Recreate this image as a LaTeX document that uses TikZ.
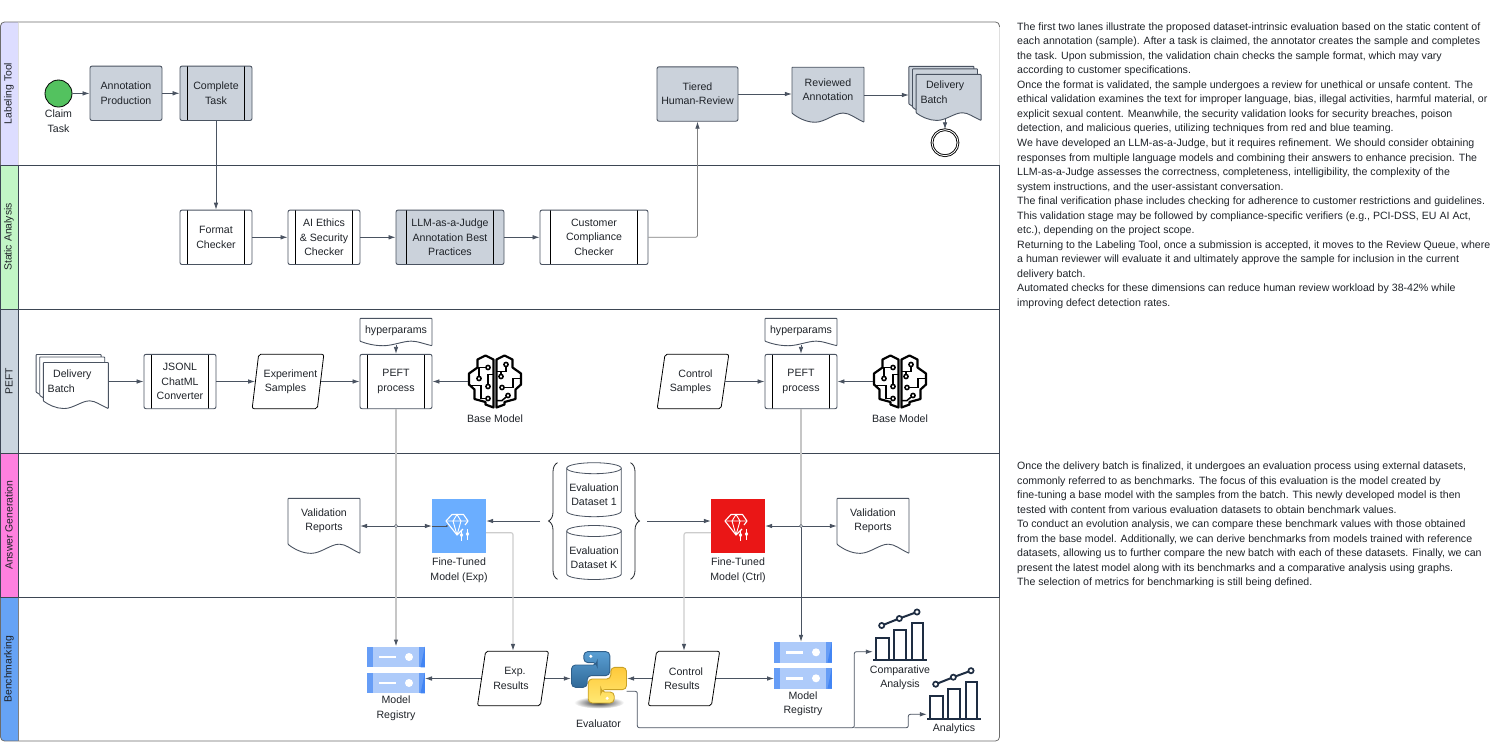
\documentclass[tikz,border=0pt]{standalone}
\usepackage{fontspec}
\setmainfont{Liberation Sans}
\usetikzlibrary{positioning, arrows.meta, decorations.pathreplacing, calc, shapes.geometric}
\definecolor{ink}{HTML}{1F2329}
\definecolor{edgecol}{HTML}{4A5361}
\definecolor{lanecol}{HTML}{3D4654}
\definecolor{boxgray}{HTML}{CBD2DB}
\definecolor{navy}{HTML}{1E2D42}
\definecolor{startgreen}{HTML}{53C25F}
\definecolor{labelhead}{HTML}{DDDDFF}
\definecolor{statichead}{HTML}{C2F6C6}
\definecolor{peefthead}{HTML}{CBD5DF}
\definecolor{answerhead}{HTML}{FF80DF}
\definecolor{benchhead}{HTML}{66A3F5}
\definecolor{modelblue}{HTML}{6BAEFF}
\definecolor{modelred}{HTML}{EA1616}
\definecolor{regbase}{HTML}{AECBFA}
\definecolor{regside}{HTML}{669DF6}
\definecolor{regdark}{HTML}{4285F4}
\definecolor{pyblueup}{HTML}{5A9FD4}
\definecolor{pybluelow}{HTML}{306998}
\definecolor{pyblueedge}{HTML}{2F5F8A}
\definecolor{pyyellowup}{HTML}{FFC93A}
\definecolor{pyyellowlow}{HTML}{FFE873}
\definecolor{pyyellowedge}{HTML}{C9A227}
\tikzset{
  lanehead/.style={rectangle, rotate=90, minimum height=18pt, inner sep=0pt, font=\fontsize{10.4pt}{12pt}\selectfont, text=ink},
  box/.style={rectangle, rounded corners=2pt, draw=edgecol, line width=0.9pt, minimum height=54.4pt, align=center, inner sep=0pt, font=\fontsize{10.6pt}{14.4pt}\selectfont, text=ink},
  subproc/.style={box, path picture={
    \draw[black, line width=0.7pt] ([xshift=#1]path picture bounding box.north west) -- ([xshift=#1]path picture bounding box.south west);
    \draw[black, line width=0.7pt] ([xshift=-#1]path picture bounding box.north east) -- ([xshift=-#1]path picture bounding box.south east);
  }},
  slanted/.style={trapezium, trapezium left angle=75, trapezium right angle=105, trapezium stretches=true, rounded corners=2pt, draw=black, line width=0.8pt, minimum height=54.4pt, align=center, inner sep=0pt, font=\fontsize{10.6pt}{14.4pt}\selectfont, text=ink},
  lbl/.style={align=center, inner sep=0pt, font=\fontsize{10.6pt}{14.4pt}\selectfont, text=ink},
  iconbox/.style={rectangle, inner sep=0pt},
  flow/.style={draw=edgecol, line width=0.8pt, -{Latex[length=7pt,width=4.6pt,color=edgecol]}},
  softflow/.style={flow, draw=#1, rounded corners=2pt},
  para/.style={anchor=north west, align=left, inner sep=0pt, font=\fontsize{10.6pt}{14.55pt}\selectfont, text=ink},
  pics/docsheet/.style n args={3}{code={
    \begin{scope}[xscale=#1, yscale=#2]
      \draw[draw=edgecol, line width=0.9pt, fill=#3, rounded corners=0.6pt] (-.5,-.5) -- (.5,-.5) -- (.5,.5) .. controls (.37,.42) and (.3,.335) .. (.21,.335) .. controls (.1,.335) and (-.05,.5) .. (-.18,.5) .. controls (-.3,.5) and (-.42,.42) .. (-.5,.335) -- cycle;
    \end{scope}
  }},
  pics/docstack/.style={code={
    \pic at (-3.6,-4.5) {docsheet={65}{45}{#1}};
    \pic at (0,-1.5) {docsheet={65}{46}{#1}};
    \pic at (3.6,4) {docsheet={65}{46}{#1}};
  }},
  pics/can/.style={code={
    \draw[draw=edgecol, line width=0.8pt, fill=white] (-27.3,-21.5) -- (-27.3,21.5) arc[start angle=180, end angle=0, x radius=27.3, y radius=5.5] -- (27.3,-21.5);
    \draw[draw=edgecol, line width=0.8pt, fill=white] (0,-21.5) ellipse (27.3 and 5.5);
  }},
  pics/registry/.style={code={
    \foreach \ypos in {-13,13} {
      \fill[regbase] (-28.8,\ypos-10.3) rectangle (28.8,\ypos+10.3);
      \fill[regside] (-28.8,\ypos-10.3) rectangle (-23,\ypos+10.3);
      \fill[regside] (23,\ypos-10.3) rectangle (28.8,\ypos+10.3);
      \fill[regdark] (28.8,\ypos-10.3) -- (28.8,\ypos+10.3) -- (24.5,\ypos+10.3) -- cycle;
      \fill[white] (-17,\ypos-1.3) rectangle (0,\ypos+1.3);
      \fill[white] (13,\ypos) circle (4);
    }
  }},
  pics/chart/.style={code={
    \draw[navy, line width=2pt] (-27,24) -- (27,24);
    \draw[navy, line width=2pt] (-24,24) -- (-24,1.5) -- (-11.5,1.5) -- (-11.5,24);
    \draw[navy, line width=2pt] (-6,24) -- (-6,-6) -- (6,-6) -- (6,24);
    \draw[navy, line width=2pt] (11.7,24) -- (11.7,-12.7) -- (23.3,-12.7) -- (23.3,24);
    \draw[navy, line width=2pt] (-18.3,-10.5) -- (-0.7,-17.5) -- (17,-24);
    \foreach \dotx/\doty in {-18.3/-10.5, -0.7/-17.5, 17/-24}
      \draw[navy, line width=1.7pt, fill=white] (\dotx,\doty) circle (2.6);
  }},
  pics/gem/.style={code={
    \draw[white, line width=1.1pt, line join=round] (4,3) -- (-2,9) -- (-13,-5) -- (-7,-11.5) -- (4.5,-11.5) -- (9,-5) -- (6,-1);
    \draw[white, line width=0.9pt] (-13,-5) -- (9,-5) (-2,9) -- (-6,-5) -- (-2,-11.5) -- (2,-5) -- (-2,9);
    \foreach \slidex/\slidey in {2.5/9, 8.5/8} {
      \draw[white, line width=0.9pt] (\slidex,\slidey-5) -- (\slidex,\slidey+6);
      \fill[white] (\slidex,\slidey-2.5) -- (\slidex+1.7,\slidey) -- (\slidex,\slidey+2.5) -- (\slidex-1.7,\slidey) -- cycle;
    }
  }},
  pics/brain/.style={code={
    \draw[black, line width=2.2pt, line join=round] (-1.5,-22) -- (-9.5,-26) -- (-17.5,-22) -- (-17.5,-14) -- (-26,-8) -- (-26,3) -- (-20.5,8) -- (-20.5,17.5) -- (-9.5,20.5) -- (-9.5,23) -- (-1.5,26) -- cycle;
    \draw[black, line width=2.2pt, line join=round] (1.5,-22) -- (9.5,-26) -- (17.5,-22) -- (17.5,-14) -- (26,-8) -- (26,3) -- (20.5,8) -- (20.5,17.5) -- (9.5,20.5) -- (9.5,23) -- (1.5,26) -- cycle;
    \draw[black, line width=1.5pt] (-7,-14) -- (-16,-14) -- (-16,-3);
    \draw[black, line width=1.5pt] (-7,5) -- (-7,-7) -- (-1.5,-7);
    \draw[black, line width=1.5pt] (-7,17) -- (-14,17) -- (-14,4) -- (-26,4);
    \draw[black, line width=1.5pt] (11,-17) -- (11,-10) -- (1.5,-10);
    \draw[black, line width=1.5pt] (6,-10) -- (6,-5);
    \draw[black, line width=1.5pt] (7,6) -- (18,6) -- (18,-3) -- (26,-3);
    \draw[black, line width=1.5pt] (13,14) -- (7,19) -- (1.5,19);
    \foreach \dotx/\doty in {-7/-14, -16/-3, -7/5, -7/17, 11/-17, 6/-5, 7/6, 13/14}
      \draw[black, line width=1.5pt, fill=white] (\dotx,\doty) circle (2.1);
  }},
  pics/snake/.style n args={3}{code={
    \path[draw=#3, line width=0.9pt, top color=#1, bottom color=#2, rounded corners=4pt] (-2.5,-25.7) -- (10.8,-25.7) -- (10.8,-1.7) -- (-11.8,-1.7) -- (-11.8,10) -- (-27.5,10) -- (-27.5,-12.3) -- (-1.8,-12.3) -- (-1.8,-14.7) -- (-15.2,-14.7) -- (-15.2,-25.7) -- cycle;
    \fill[white] (-8.2,-21) circle (1.7);
  }},
}
\begin{document}
\begin{tikzpicture}[x=1pt, y=-1pt]
  \useasboundingbox (0,0) rectangle (1494,742);

  % Lane headers
  \begin{scope}
    \clip[rounded corners=4pt] (0.5,22) rectangle (999.5,741);
    \node[lanehead, fill=labelhead, minimum width=143pt] (lanelabel) at (9,93.5) {Labeling Tool};
    \node[lanehead, fill=statichead, minimum width=144pt] (lanestatic) at (9,237) {Static Analysis};
    \node[lanehead, fill=peefthead, minimum width=144pt] (lanepeft) at (9,381) {PEFT};
    \node[lanehead, fill=answerhead, minimum width=144.5pt] (laneanswer) at (9,525.2) {Answer Generation};
    \node[lanehead, fill=benchhead, minimum width=144pt] (lanebench) at (9,669.3) {Benchmarking};
  \end{scope}

  % Lane borders
  \draw[draw=gray!85!black, line width=0.8pt, rounded corners=4pt] (0.5,22) rectangle (999.5,741);
  \draw[draw=gray!25, line width=0.9pt] (999.5,27) -- (999.5,165);
  \draw[draw=gray!25, line width=0.9pt] (18,22.5) -- (18,165);
  \draw[draw=lanecol, line width=0.8pt] (0.5,165) rectangle (999.5,597.5);
  \draw[draw=lanecol, line width=0.8pt] (0.5,309) -- (999.5,309);
  \draw[draw=lanecol, line width=0.8pt] (0.5,453) -- (999.5,453);
  \draw[draw=lanecol, line width=0.8pt] (18,165) -- (18,597.5);
  \draw[draw=gray, line width=0.8pt] (18,597.5) -- (18,741);

  % Labeling Tool
  \node[circle, draw=black, line width=0.8pt, fill=startgreen, minimum size=27pt, inner sep=0pt] (claim) at (58.5,93.5) {};
  \node[lbl] (claimtext) at (58.5,121.2) {Claim\\Task};
  \node[box, fill=boxgray, minimum width=72pt] (produce) at (126,93.3) {Annotation\\Production};
  \node[subproc=7.5pt, fill=boxgray, minimum width=72pt] (complete) at (216,93.3) {Complete\\Task};
  \node[box, fill=boxgray, minimum width=81pt] (tiered) at (697.5,94) {Tiered\\Human-Review};
  \pic at (828,94.7) {docsheet={72}{55}{boxgray}};
  \node[lbl, minimum width=72pt, minimum height=55pt] (reviewed) at (828,90) {Reviewed\\Annotation};
  \pic at (945,93.4) {docstack=boxgray};
  \node[lbl, minimum width=72pt, minimum height=55pt, text width=57pt, align=left] (batchtop) at (945,92.3) {\hspace*{9.5pt}Delivery\\\hspace*{4pt}Batch};
  \node[circle, draw=black, line width=0.9pt, double, double distance=0.9pt, minimum size=26pt, inner sep=0pt] (finish) at (945,142.7) {};

  % Static Analysis
  \node[subproc=7.5pt, minimum width=72pt] (format) at (216,237.3) {Format\\Checker};
  \node[subproc=7.5pt, minimum width=72pt] (ethics) at (324,237.3) {AI Ethics\\\&~Security\\Checker};
  \node[subproc=10.5pt, fill=boxgray, minimum width=108pt] (judge) at (450,237.3) {LLM-as-a-Judge\\Annotation Best\\Practices};
  \node[subproc=10.5pt, minimum width=108pt] (customer) at (594,237.3) {Customer\\Compliance\\Checker};

  % PEFT
  \pic at (72.2,381.5) {docstack=white};
  \node[lbl, minimum width=72pt, minimum height=55pt, text width=57pt, align=left] (batchpeft) at (72.2,381.2) {\hspace*{9.5pt}Delivery\\\hspace*{4pt}Batch};
  \node[subproc=7.5pt, minimum width=72pt] (jsonl) at (180,381.5) {JSONL\\ChatML\\Converter};
  \node[slanted, minimum width=72pt] (expsamples) at (288,381.5) {\hspace*{5pt}Experiment\\Samples\hspace*{5pt}};
  \pic at (396,332) {docsheet={72}{27.4}{white}};
  \node[lbl, minimum width=72pt, minimum height=27pt] (hyperexp) at (396,330.8) {hyperparams};
  \node[subproc=7.5pt, minimum width=72pt] (peftexp) at (396,381.5) {PEFT\\process};
  \node[iconbox, minimum width=54pt, minimum height=54pt] (baseexp) at (495,381.5) {};
  \pic at (baseexp) {brain};
  \node[lbl] (baseexptext) at (495,418.7) {Base Model};
  \node[slanted, minimum width=72pt] (ctrlsamples) at (693,381.5) {\hspace*{5pt}Control\\Samples\hspace*{5pt}};
  \pic at (801,332) {docsheet={72}{27.4}{white}};
  \node[lbl, minimum width=72pt, minimum height=27pt] (hyperctrl) at (801,330.8) {hyperparams};
  \node[subproc=7.5pt, minimum width=72pt] (peftctrl) at (801,381.5) {PEFT\\process};
  \node[iconbox, minimum width=54pt, minimum height=54pt] (basectrl) at (900,381.5) {};
  \pic at (basectrl) {brain};
  \node[lbl] (basectrltext) at (900,418.7) {Base Model};

  % Answer Generation
  \pic at (324,525.8) {docsheet={72}{55}{white}};
  \node[lbl, minimum width=72pt, minimum height=55pt] (reportexp) at (324,520.5) {Validation\\Reports};
  \node[iconbox, fill=modelblue, minimum size=54pt] (fineexp) at (459,526) {};
  \pic at (fineexp) {gem};
  \node[lbl] (fineexptext) at (459,570.2) {Fine-Tuned\\Model (Exp)};
  \pic at (594,489.7) {can};
  \node[lbl] (evalone) at (594,495) {Evaluation\\Dataset 1};
  \pic at (594,552.5) {can};
  \node[lbl] (evalk) at (594,558) {Evaluation\\Dataset K};
  \coordinate (braceleft) at (548,521);
  \coordinate (braceright) at (640,521);
  \draw[draw=ink, line width=0.8pt, decorate, decoration={brace, amplitude=9pt}] (557.5,579.3) -- (557.5,462.7);
  \draw[draw=ink, line width=0.8pt, decorate, decoration={brace, amplitude=9pt}] (630.5,462.7) -- (630.5,579.3);
  \node[iconbox, fill=modelred, minimum size=54pt] (finectrl) at (738,526) {};
  \pic at (finectrl) {gem};
  \node[lbl] (finectrltext) at (738,570.2) {Fine-Tuned\\Model (Ctrl)};
  \pic at (873,525.8) {docsheet={72}{55}{white}};
  \node[lbl, minimum width=72pt, minimum height=55pt] (reportctrl) at (873,520.5) {Validation\\Reports};

  % Benchmarking
  \node[iconbox, minimum width=57.6pt, minimum height=46.6pt] (regexp) at (396,670) {};
  \pic at (regexp) {registry};
  \node[lbl] (regexptext) at (396,708.2) {Model\\Registry};
  \node[slanted, minimum width=71.4pt] (expresults) at (513,678.5) {\hspace*{4pt}Exp.\\Results\hspace*{4pt}};
  \node[iconbox, minimum width=56pt, minimum height=57pt] (evaluator) at (599,677.3) {};
  \shade[inner color=black!85, outer color=white] (599,702.5) ellipse (25 and 6);
  \pic at (evaluator) {snake={pyblueup}{pybluelow}{pyblueedge}};
  \pic[rotate=180] at (evaluator) {snake={pyyellowup}{pyyellowlow}{pyyellowedge}};
  \node[lbl] (evaluatortext) at (598.5,723.3) {Evaluator};
  \node[slanted, minimum width=71.4pt] (ctrlresults) at (684,678.5) {\hspace*{4pt}Control\\Results\hspace*{4pt}};
  \node[iconbox, minimum width=57.6pt, minimum height=46.6pt] (regctrl) at (803,665.3) {};
  \pic at (regctrl) {registry};
  \node[lbl] (regctrltext) at (803,703.5) {Model\\Registry};
  \node[iconbox, minimum width=54pt, minimum height=49pt] (compare) at (900,636) {};
  \pic at (compare) {chart};
  \node[lbl] (comparetext) at (900,678) {Comparative\\Analysis};
  \node[iconbox, minimum width=54pt, minimum height=49pt] (analytics) at (954,694.7) {};
  \pic at (analytics) {chart};
  \node[lbl] (analyticstext) at (954,729) {Analytics};

  % Connectors, upper lanes
  \draw[flow] (claim) -- (produce);
  \draw[flow] (produce) -- (complete);
  \draw[flow] (complete) -- (format);
  \draw[flow] (format) -- (ethics);
  \draw[flow] (ethics) -- (judge);
  \draw[flow] (judge) -- (customer);
  \draw[softflow=gray] (customer.east) -| (tiered.south);
  \draw[flow] (tiered.east) -- (reviewed.west |- tiered.east);
  \coordinate (reviewedout) at (864,95);
  \draw[flow] (reviewedout) -- (batchtop.west |- reviewedout);
  \draw[flow] (finish.north |- 0,118) -- (finish);

  % Connectors, PEFT
  \draw[flow] (batchpeft.east |- jsonl) -- (jsonl);
  \draw[flow] (jsonl) -- (expsamples.left side);
  \draw[flow] (expsamples.right side) -- (peftexp);
  \draw[flow] (hyperexp.south) -- (peftexp);
  \draw[flow] (baseexp) -- (peftexp);
  \draw[flow] (ctrlsamples.right side) -- (peftctrl);
  \draw[flow] (hyperctrl.south) -- (peftctrl);
  \draw[flow] (basectrl) -- (peftctrl);

  % Connectors, answers
  \coordinate (hopexp) at (396,526);
  \coordinate (hopctrl) at (801,526);
  \coordinate (fineexpout) at (486,532.7);
  \coordinate (finectrlout) at (711,532.7);
  \draw[softflow=gray!45, line width=1.2pt] (peftexp.south) -- (regexp.north);
  \draw[draw=gray!45, line width=1.2pt] (peftctrl.south) -- (hopctrl);
  \draw[flow] (hopctrl) -- (regctrl.north -| hopctrl);
  \draw[flow] (hopexp) -- (reportexp.east |- hopexp);
  \draw[flow] (hopexp) -- (fineexp.west);
  \draw[edgecol, line width=0.8pt] (fineexp.west) -- ++(15,0);
  \fill[edgecol] ($(fineexp.west)+(15,0)$) circle (1);
  \draw[flow] (braceleft) ++(-8,0) -- (fineexp.east |- braceleft);
  \draw[flow] (braceright) ++(7,0) -- (finectrl.west |- braceright);
  \draw[flow] (hopctrl) -- (finectrl.east);
  \draw[flow] (hopctrl) -- (reportctrl.west |- hopctrl);
  \draw[draw=edgecol, line width=0.5pt, fill=white] (hopexp) circle (1.6);
  \draw[draw=edgecol, line width=0.5pt, fill=white] (hopctrl) circle (1.6);
  \draw[softflow=gray!40, line width=1.1pt] (fineexpout) -| (expresults.north);
  \draw[softflow=gray!40, line width=1.1pt] (finectrlout) -| (ctrlresults.north);

  % Connectors, benchmarking
  \draw[flow] (expresults.left side) -- (regexp.east |- expresults.left side);
  \draw[flow] (expresults.right side) -- (evaluator.west |- expresults.right side);
  \draw[flow] (ctrlresults.left side) -- (evaluator.east |- ctrlresults.left side);
  \draw[flow] (ctrlresults.right side) -- (regctrl.west |- ctrlresults.right side);
  \coordinate (evalout) at (626.7,691.3);
  \coordinate (evalrun) at (637.3,727.7);
  \draw[softflow=edgecol] (evalout) -- (637.3,691.3) -- (evalrun) -- (854.3,727.7) -- (854.3,651.7) -- (compare.west |- 0,651.7);
  \draw[softflow=edgecol] (854.3,727.7) -- (908.3,727.7) -- (908.3,714.3) -- (analytics.west |- 0,714.3);

  % Side notes
  \node[para] (noteupper) at (1017,22.2) {The first two lanes illustrate the proposed dataset-intrinsic evaluation based on the static content of\\
each annotation (sample). After a task is claimed, the annotator creates the sample and completes\\
the task. Upon submission, the validation chain checks the sample format, which may vary\\
according to customer specifications.\\
Once the format is validated, the sample undergoes a review for unethical or unsafe content. The\\
ethical validation examines the text for improper language, bias, illegal activities, harmful material, or\\
explicit sexual content. Meanwhile, the security validation looks for security breaches, poison\\
detection, and malicious queries, utilizing techniques from red and blue teaming.\\
We have developed an LLM-as-a-Judge, but it requires refinement. We should consider obtaining\\
responses from multiple language models and combining their answers to enhance precision. The\\
LLM-as-a-Judge assesses the correctness, completeness, intelligibility, the complexity of the\\
system instructions, and the user-assistant conversation.\\
The final verification phase includes checking for adherence to customer restrictions and guidelines.\\
This validation stage may be followed by compliance-specific verifiers (e.g., PCI-DSS, EU AI Act,\\
etc.), depending on the project scope.\\
Returning to the Labeling Tool, once a submission is accepted, it moves to the Review Queue, where\\
a human reviewer will evaluate it and ultimately approve the sample for inclusion in the current\\
delivery batch.\\
Automated checks for these dimensions can reduce human review workload by 38-42\% while\\
improving defect detection rates.};
  \node[para] (notelower) at (1017,461.6) {Once the delivery batch is finalized, it undergoes an evaluation process using external datasets,\\
commonly referred to as benchmarks. The focus of this evaluation is the model created by\\
fine-tuning a base model with the samples from the batch. This newly developed model is then\\
tested with content from various evaluation datasets to obtain benchmark values.\\
To conduct an evolution analysis, we can compare these benchmark values with those obtained\\
from the base model. Additionally, we can derive benchmarks from models trained with reference\\
datasets, allowing us to further compare the new batch with each of these datasets. Finally, we can\\
present the latest model along with its benchmarks and a comparative analysis using graphs.\\
The selection of metrics for benchmarking is still being defined.};
\end{tikzpicture}
\end{document}
